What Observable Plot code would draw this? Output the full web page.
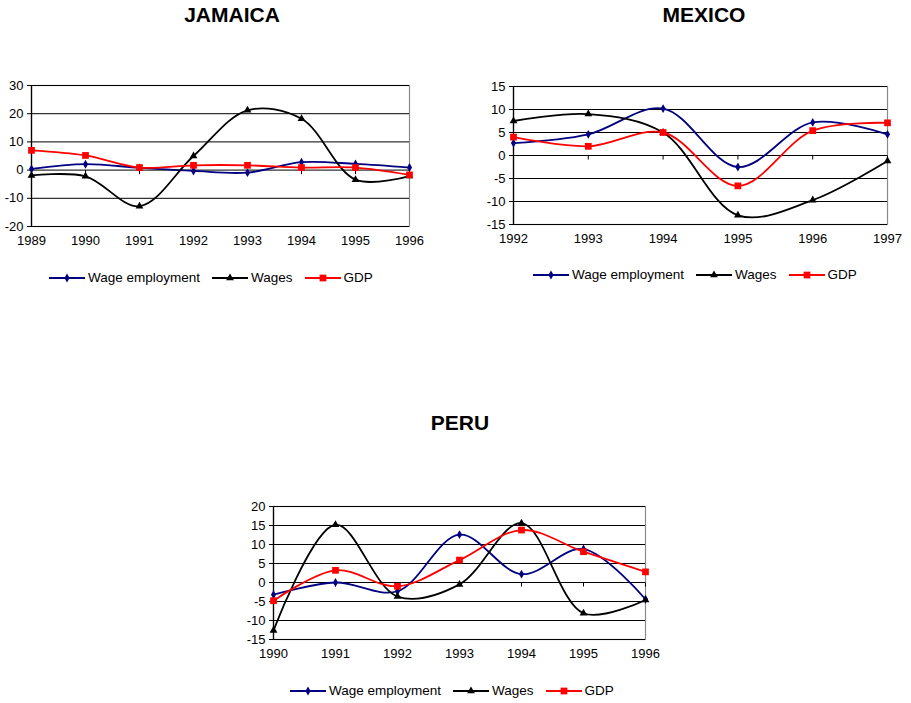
<!DOCTYPE html>
<html>
<head>
<meta charset="utf-8">
<script src="https://cdn.jsdelivr.net/npm/d3@7"></script>
<script src="https://cdn.jsdelivr.net/npm/@observablehq/plot@0.6"></script>
<style>
  html, body { margin: 0; padding: 0; background: #fff; }
  body { font-family: "Liberation Sans", Arial, sans-serif; color: #000; }
  #root { position: relative; width: 911px; height: 703px; overflow: hidden; }
  .title { position: absolute; font-weight: bold; font-size: 21px; line-height: 22px; transform: translateX(-50%); white-space: nowrap; }
  .panel { position: absolute; }
  .legend { position: absolute; display: flex; align-items: center; font-size: 13.5px; line-height: 14px; white-space: nowrap; }
  .legend .item { display: flex; align-items: center; margin-right: 12px; }
  .legend svg { display: block; margin-right: 3px; }
</style>
</head>
<body>
<div id="root"></div>
<script>
// ---------- DATA ----------
const seriesNames = ["Wage employment", "Wages", "GDP"];

const jamaicaYears = [1989, 1990, 1991, 1992, 1993, 1994, 1995, 1996];
const jamaicaWageEmployment = [0.4, 2.1, 0.8, -0.3, -0.9, 2.8, 2.2, 0.9];
const jamaicaWages = [-1.9, -2.2, -12.8, 5.0, 21.2, 18.2, -3.4, -2.1];
const jamaicaGDP = [7.0, 5.2, 0.9, 1.7, 1.7, 0.9, 0.9, -1.7];
const jamaicaYTicks = [-20, -10, 0, 10, 20, 30];

const mexicoYears = [1992, 1993, 1994, 1995, 1996, 1997];
const mexicoWageEmployment = [2.7, 4.6, 10.2, -2.5, 7.2, 4.6];
const mexicoWages = [7.5, 9.0, 5.0, -13.0, -9.7, -1.2];
const mexicoGDP = [4.0, 2.0, 5.0, -6.6, 5.4, 7.1];
const mexicoYTicks = [-15, -10, -5, 0, 5, 10, 15];

const peruYears = [1990, 1991, 1992, 1993, 1994, 1995, 1996];
const peruWageEmployment = [-3.2, 0.0, -2.3, 12.6, 2.2, 8.8, -4.4];
const peruWages = [-12.6, 15.2, -3.7, -0.5, 15.6, -8.1, -4.6];
const peruGDP = [-4.8, 3.2, -1.0, 5.9, 13.8, 8.1, 2.8];
const peruYTicks = [-15, -10, -5, 0, 5, 10, 15, 20];

// ---------- STYLE ----------
const styles = {
  "Wage employment": { color: "#000080", symbol: "diamond", r: 2.7 },
  "Wages": { color: "#000000", symbol: "triangle", r: 2.9 },
  "GDP": { color: "#ff0000", symbol: "square", r: 3.8 }
};
const FONT = '"Liberation Sans", Arial, sans-serif';
const root = document.getElementById("root");

const downTick = { draw(ctx, size) { ctx.moveTo(0, 0); ctx.lineTo(0, 4); } };

function makePanel(cfg) {
  const { years, yTicks, values, left, top, width, height, margin } = cfg;
  const rows = [];
  seriesNames.forEach((name, k) => values[k].forEach((v, i) => rows.push({ name, year: years[i], value: v })));
  const lineMarks = [];
  for (const name of seriesNames) {
    const st = styles[name];
    const d = rows.filter(r => r.name === name);
    lineMarks.push(Plot.line(d, { x: "year", y: "value", stroke: st.color, strokeWidth: 1.8, curve: "catmull-rom" }));
    lineMarks.push(Plot.dot(d, { x: "year", y: "value", symbol: st.symbol, fill: st.color, stroke: "none", r: st.r }));
  }
  const chart = Plot.plot({
    width, height,
    marginLeft: margin[0], marginRight: margin[1], marginTop: margin[2], marginBottom: margin[3],
    style: { fontFamily: FONT, fontSize: "13px", color: "#000", background: "transparent", overflow: "visible" },
    x: { domain: [years[0], years[years.length - 1]] },
    y: { domain: [yTicks[0], yTicks[yTicks.length - 1]] },
    marks: [
      Plot.frame({ stroke: "#8a8a8a", strokeWidth: 1.2 }),
      Plot.ruleY(yTicks, { stroke: "#000", strokeWidth: 1 }),
      Plot.ruleX([years[0]], { stroke: "#000", strokeWidth: 1.3 }),
      Plot.axisY({ ticks: yTicks, tickSize: 4, tickPadding: 4, tickFormat: d => String(d), label: null, fontSize: 13 }),
      Plot.axisX({ ticks: years, tickSize: 0, tickPadding: 9, tickFormat: d => String(d), label: null, fontSize: 13 }),
      Plot.dot(years, { x: d => d, y: () => 0, symbol: downTick, stroke: "#000", fill: "none", strokeWidth: 1 }),
      ...lineMarks
    ]
  });
  const wrap = document.createElement("div");
  wrap.className = "panel";
  wrap.style.left = left + "px";
  wrap.style.top = top + "px";
  wrap.appendChild(chart);
  root.appendChild(wrap);
}

function makeTitle(text, cx, top) {
  const t = document.createElement("div");
  t.className = "title";
  t.textContent = text;
  t.style.left = cx + "px";
  t.style.top = top + "px";
  root.appendChild(t);
}

function symbolPath(name, size) {
  const map = { diamond: d3.symbolDiamond, triangle: d3.symbolTriangle, square: d3.symbolSquare };
  return d3.symbol(map[name], size)();
}

function makeLegend(left, cy) {
  const lg = document.createElement("div");
  lg.className = "legend";
  lg.style.left = left + "px";
  lg.style.top = (cy - 7) + "px";
  for (const name of seriesNames) {
    const st = styles[name];
    const item = document.createElement("div");
    item.className = "item";
    const ns = "http://www.w3.org/2000/svg";
    const svg = document.createElementNS(ns, "svg");
    svg.setAttribute("width", 36); svg.setAttribute("height", 12);
    const ln = document.createElementNS(ns, "line");
    ln.setAttribute("x1", 0); ln.setAttribute("x2", 36); ln.setAttribute("y1", 6); ln.setAttribute("y2", 6);
    ln.setAttribute("stroke", st.color); ln.setAttribute("stroke-width", 1.8);
    svg.appendChild(ln);
    const p = document.createElementNS(ns, "path");
    p.setAttribute("d", symbolPath(st.symbol, Math.PI * st.r * st.r));
    p.setAttribute("transform", "translate(18,6)");
    p.setAttribute("fill", st.color);
    svg.appendChild(p);
    item.appendChild(svg);
    const s = document.createElement("span");
    s.textContent = name;
    item.appendChild(s);
    lg.appendChild(item);
  }
  root.appendChild(lg);
}

// JAMAICA
makeTitle("JAMAICA", 232, 4);
makePanel({ years: jamaicaYears, yTicks: jamaicaYTicks, values: [jamaicaWageEmployment, jamaicaWages, jamaicaGDP],
  left: 0, top: 75, width: 420, height: 180, margin: [31, 11, 10, 29] });
makeLegend(49, 278);

// MEXICO
makeTitle("MEXICO", 704, 4);
makePanel({ years: mexicoYears, yTicks: mexicoYTicks, values: [mexicoWageEmployment, mexicoWages, mexicoGDP],
  left: 470, top: 75, width: 441, height: 180, margin: [43, 24, 11, 31] });
makeLegend(533, 275);

// PERU
makeTitle("PERU", 460, 412);
makePanel({ years: peruYears, yTicks: peruYTicks, values: [peruWageEmployment, peruWages, peruGDP],
  left: 220, top: 495, width: 450, height: 175, margin: [53, 25, 11, 31] });
makeLegend(290, 691);
</script>
</body>
</html>
